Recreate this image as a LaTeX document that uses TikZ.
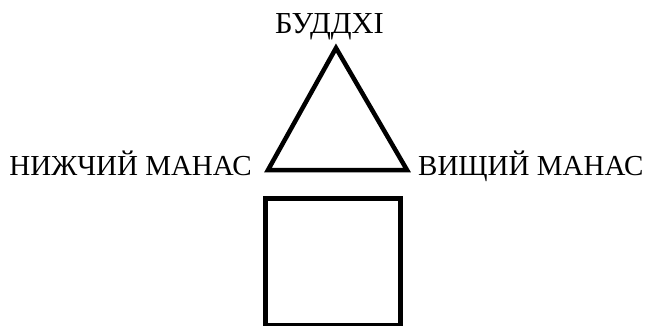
\documentclass[tikz,border=0pt]{standalone}
\usepackage{fontspec}
\setmainfont{Liberation Serif}
\begin{document}
\begin{tikzpicture}[x=1pt,y=-1pt,
  shapeline/.style={line width=4.5pt,line join=miter},
  lbl/.style={font=\fontsize{29}{34}\selectfont,inner sep=0pt}]
\useasboundingbox (0,0) rectangle (648,325);
\coordinate (apex) at (336,48);
\coordinate (bl) at (268,170);
\coordinate (br) at (407,170);
\draw[shapeline] (apex) -- (bl) -- (br) -- cycle;
\node[draw,line width=5pt,minimum width=135pt,minimum height=127pt,inner sep=0pt,anchor=north west] (sq) at (262.5,195.5) {};
\node[lbl,font=\fontsize{30.5}{34}\selectfont,anchor=base] (buddhi) at (329.5,33) {БУДДХІ};
\node[lbl,anchor=base east] (lower) at (252,175) {НИЖЧИЙ МАНАС};
\node[lbl,anchor=base west] (higher) at (418,175) {ВИЩИЙ МАНАС};
\end{tikzpicture}
\end{document}
